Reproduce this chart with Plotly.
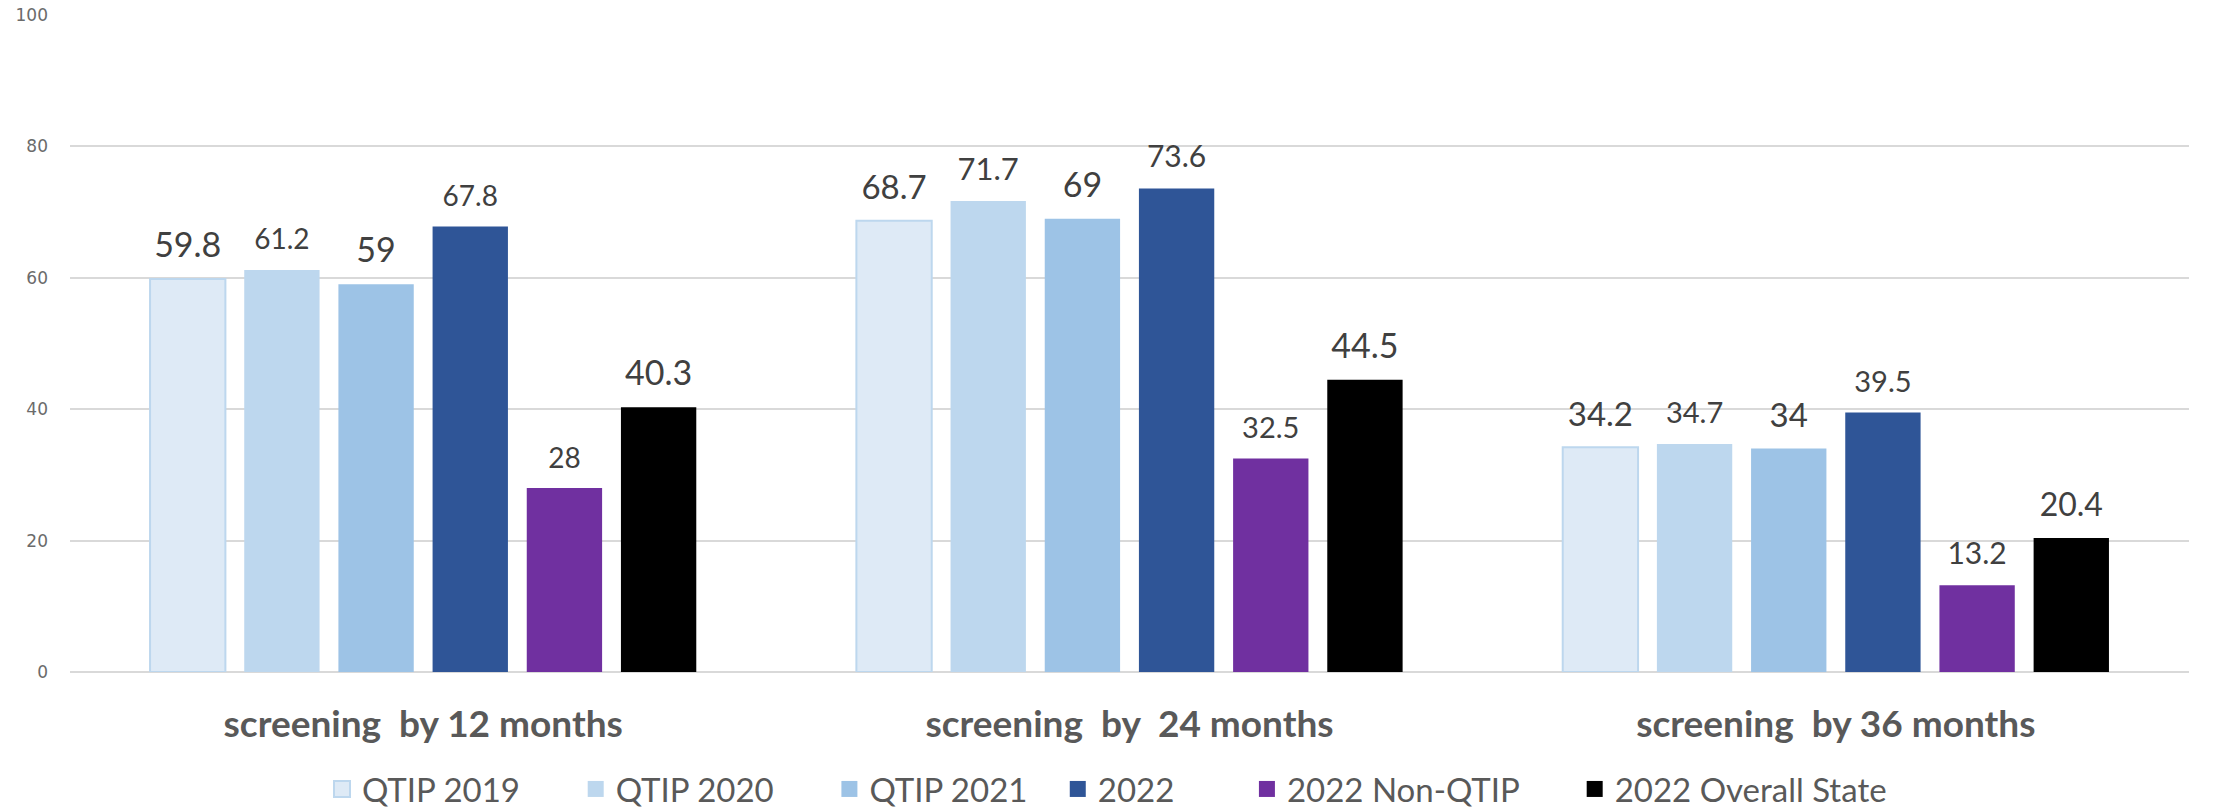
import plotly.graph_objects as go

categories = ["screening\u00a0 by 12 months", "screening\u00a0 by\u00a0 24 months", "screening\u00a0 by 36 months"]
series_names = ["QTIP 2019", "QTIP 2020", "QTIP 2021", "2022", "2022 Non-QTIP", "2022 Overall State"]
qtip_2019 = [59.8, 68.7, 34.2]
qtip_2020 = [61.2, 71.7, 34.7]
qtip_2021 = [59, 69, 34]
y2022 = [67.8, 73.6, 39.5]
non_qtip_2022 = [28, 32.5, 13.2]
overall_2022 = [40.3, 44.5, 20.4]
series_values = [qtip_2019, qtip_2020, qtip_2021, y2022, non_qtip_2022, overall_2022]
y_ticks = [0, 20, 40, 60, 80, 100]

# styles
colors = ["#DEEAF6", "#BDD7EE", "#9DC3E6", "#2F5597", "#7030A0", "#000000"]
line_colors = ["#BDD7EE", "#BDD7EE", "#9DC3E6", "#2F5597", "#7030A0", "#000000"]
line_widths = [2, 0, 0, 0, 0, 0]
label_sizes = [
    [34, 33, 33],
    [28, 31, 29],
    [34, 34, 33],
    [28, 30, 29],
    [28, 29, 30],
    [34, 34, 32],
]
legend_pads = [6, 6, 3, 8, 6, 0]  # trailing spacing after each legend entry

fig = go.Figure()
for name, vals, c, lc, lw in zip(series_names, series_values, colors, line_colors, line_widths):
    fig.add_trace(go.Bar(
        name=name, x=categories, y=vals,
        marker=dict(color=c, line=dict(color=lc, width=lw)),
        showlegend=False, hoverinfo="skip",
    ))
for name, vals, sz in zip(series_names, series_values, label_sizes):
    fig.add_trace(go.Scatter(
        name=name, x=categories, y=vals, mode="markers+text",
        text=[f"{v:g}" for v in vals], textposition="top center",
        textfont=dict(family="Lato", size=sz, color="#404040"),
        marker=dict(size=20, opacity=0),
        showlegend=False, hoverinfo="skip", cliponaxis=False,
    ))
# legend-only entries on a hidden overlay axis pair (so they don't take group slots)
for name, c, lc, lw, p in zip(series_names, colors, line_colors, line_widths, legend_pads):
    fig.add_trace(go.Scatter(
        name=name + "\u00a0" * p, x=[None], y=[None], mode="markers",
        xaxis="x2", yaxis="y2",
        marker=dict(symbol="square", size=22, color=c, line=dict(color=lc, width=lw)),
        showlegend=True, hoverinfo="skip",
    ))

fig.update_layout(
    width=2214, height=811,
    barmode="group", bargap=0.2, bargroupgap=0.2,
    scattermode="group", scattergap=0.2,
    plot_bgcolor="white", paper_bgcolor="white",
    margin=dict(l=70, r=25, t=15, b=139, autoexpand=False),
    font=dict(family="Lato", color="#595959"),
    legend=dict(
        orientation="h", xref="container", yref="container",
        x=322 / 2214, xanchor="left", y=1 - 789 / 811, yanchor="middle",
        font=dict(family="Lato", size=33, color="#595959"),
        bgcolor="rgba(0,0,0,0)", itemclick=False, itemdoubleclick=False,
    ),
    xaxis=dict(
        type="category", showgrid=False, showline=False, zeroline=False,
        tickfont=dict(family="Lato", size=37, color="#595959", weight="bold"),
        ticklabelstandoff=27, ticks="",
    ),
    yaxis=dict(
        range=[0, 100], tickvals=y_ticks, showgrid=True, gridcolor="#D9D9D9", gridwidth=2,
        zeroline=True, zerolinecolor="#D9D9D9", zerolinewidth=2, showline=False,
        tickfont=dict(family="DejaVu Sans", size=17, color="#6B6B6B"),
        ticklabelstandoff=21, ticks="",
    ),
    xaxis2=dict(visible=False, overlaying="x", range=[0, 1]),
    yaxis2=dict(visible=False, overlaying="y", range=[0, 1]),
)

fig.write_html(
    "out.html",
    config={"displayModeBar": False},
    post_script="document.body.style.margin='0';",
)
